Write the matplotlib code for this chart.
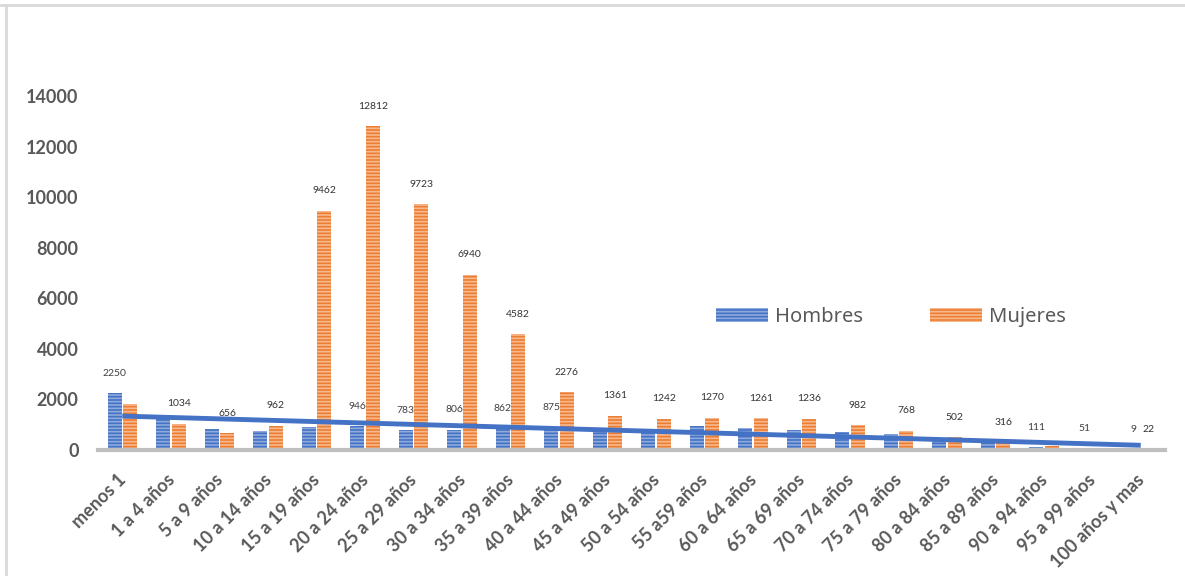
import numpy as np
import matplotlib.pyplot as plt
import matplotlib.transforms as mtransforms
from matplotlib.lines import Line2D
from matplotlib.patches import Patch

plt.rcParams['font.family'] = ['Lato', 'DejaVu Sans']
plt.rcParams['hatch.linewidth'] = 1.2

grupos = ['menos 1', '1 a 4 años', '5 a 9 años', '10 a 14 años', '15 a 19 años',
          '20 a 24 años', '25 a 29 años', '30 a 34 años', '35 a 39 años',
          '40 a 44 años', '45 a 49 años', '50 a 54 años', '55 a59 años',
          '60 a 64 años', '65 a 69 años', '70 a 74 años', '75 a 79 años',
          '80 a 84 años', '85 a 89 años', '90 a 94 años', '95 a 99 años',
          '100 años y mas']
hombres = [2250, 1220, 850, 760, 900, 946, 783, 806, 862, 875, 780, 850,
           940, 860, 790, 720, 640, 430, 380, 111, 51, 9]
mujeres = [1800, 1034, 656, 962, 9462, 12812, 9723, 6940, 4582, 2276, 1361,
           1242, 1270, 1261, 1236, 982, 768, 502, 316, 160, 30, 22]
# etiquetas visibles en el original (None = sin etiqueta)
etq_h = [2250, None, None, None, None, 946, 783, 806, 862, 875, None, None,
         None, None, None, None, None, None, None, 111, 51, 9]
etq_m = [None, 1034, 656, 962, 9462, 12812, 9723, 6940, 4582, 2276, 1361,
         1242, 1270, 1261, 1236, 982, 768, 502, 316, None, None, 22]

azul, azul_claro = '#4472C4', '#8FAADC'
naranja, naranja_claro = '#ED7D31', '#F6B98F'
gris_txt = '#595959'

fig = plt.figure(figsize=(11.85, 5.76), dpi=100)
ax = fig.add_axes([98 / 1185, 1 - 450 / 576, (1165 - 98) / 1185, (450 - 96) / 576])

x = np.arange(len(grupos))
w = 0.28
ax.bar(x - 0.155, hombres, w, color=azul, edgecolor=azul_claro, linewidth=0,
       hatch='-----', zorder=2)
ax.bar(x + 0.165, mujeres, w, color=naranja, edgecolor=naranja_claro, linewidth=0,
       hatch='-----', zorder=2)

# linea de tendencia lineal (Hombres)
p = np.polyfit(x, hombres, 1)
ax.plot(x, np.polyval(p, x), color=azul, lw=3.5, zorder=3, solid_capstyle='butt')

for i in range(len(grupos)):
    if etq_h[i] is not None:
        ax.annotate(str(etq_h[i]), (x[i] - 0.155, hombres[i]), xytext=(0, 20),
                    textcoords='offset pixels', ha='center', va='center',
                    fontsize=7.5, color='#404040')
    if etq_m[i] is not None:
        ax.annotate(str(etq_m[i]), (x[i] + 0.165, mujeres[i]), xytext=(0, 20),
                    textcoords='offset pixels', ha='center', va='center',
                    fontsize=7.5, color='#333333')

ax.set_xlim(-0.5, len(grupos) - 0.5)
ax.set_ylim(0, 14000)
ax.set_yticks(np.arange(0, 14001, 2000))
ax.set_xticks(x)
ax.set_xticklabels(grupos, rotation=45, ha='right', va='top',
                   rotation_mode='anchor')
ax.tick_params(axis='both', length=0, labelsize=13, labelcolor=gris_txt)
ax.tick_params(axis='y', pad=14)
ax.tick_params(axis='x', pad=15)
desplazar = mtransforms.ScaledTranslation(-5 / 100, 0, fig.dpi_scale_trans)
for lbl in ax.get_xticklabels():
    lbl.set_transform(lbl.get_transform() + desplazar)
for lbl in ax.get_xticklabels() + ax.get_yticklabels():
    lbl.set_fontweight('bold')

for s in ['top', 'right', 'left']:
    ax.spines[s].set_visible(False)
ax.spines['bottom'].set_color('#BFBFBF')
ax.spines['bottom'].set_linewidth(3)

# leyenda
handles = [Patch(facecolor=azul, edgecolor=azul_claro, linewidth=0, hatch='-----'),
           Patch(facecolor=naranja, edgecolor=naranja_claro, linewidth=0, hatch='-----')]
leg = fig.legend(handles, ['Hombres', 'Mujeres'], loc='center left',
                 bbox_to_anchor=(706 / 1185, 1 - 317 / 576), ncol=2,
                 frameon=False, borderpad=0, handlelength=2.6, handleheight=0.7,
                 handletextpad=0.35, columnspacing=3.3,
                 prop={'family': 'Noto Sans', 'size': 14.5}, labelcolor=gris_txt)

# borde de la figura
fig.add_artist(Line2D([0, 1], [1 - 5 / 576] * 2, color='#D9D9D9', lw=2))
fig.add_artist(Line2D([6 / 1185] * 2, [0, 1 - 5 / 576], color='#D9D9D9', lw=2))

fig.savefig('out.png', dpi=100)
